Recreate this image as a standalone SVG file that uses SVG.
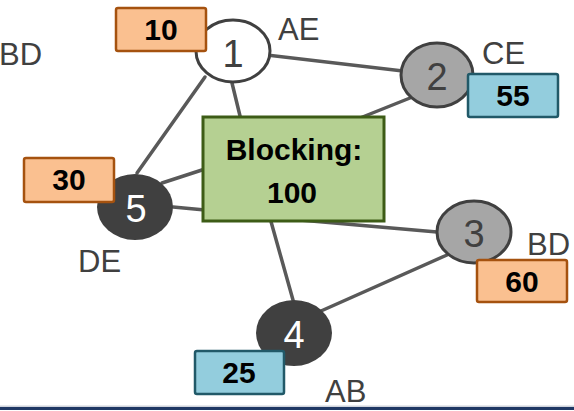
<svg xmlns="http://www.w3.org/2000/svg" width="574" height="411" viewBox="0 0 574 411">
<style>
.edge{stroke:#595959;stroke-width:3.5;stroke-linecap:round;fill:none}
.nd{stroke:#404040;stroke-width:3}
.num{font-family:"Liberation Sans",Arial,sans-serif;font-size:38px;text-anchor:middle}
.lbl{font-family:"Liberation Sans",Arial,sans-serif;font-size:31px;fill:#404040}
.bx{font-family:"Liberation Sans",Arial,sans-serif;font-size:30px;font-weight:bold;text-anchor:middle;fill:#000}
.or{fill:#fac090;stroke:#a5520f;stroke-width:2.5}
.bl{fill:#93cddd;stroke:#215968;stroke-width:2.5}
</style>
<rect width="574" height="411" fill="#fff"/>
<g id="connectors">
<line class="edge" x1="233" y1="51" x2="437" y2="75"/>
<line class="edge" x1="205" y1="77" x2="137" y2="173"/>
<line class="edge" x1="232" y1="83" x2="241" y2="120"/>
<line class="edge" x1="410" y1="98" x2="355" y2="120"/>
<line class="edge" x1="162" y1="183" x2="205" y2="169"/>
<line class="edge" x1="173" y1="207" x2="205" y2="210"/>
<line class="edge" x1="300" y1="220" x2="437" y2="232"/>
<line class="edge" x1="270" y1="218" x2="293" y2="300"/>
<line class="edge" x1="447" y1="255" x2="321" y2="311"/>
</g>
<g id="blocking">
<rect x="203" y="117" width="181" height="104" fill="#b5d092" stroke="#3d5c16" stroke-width="3"/>
<text class="bx" x="294" y="160" font-size="31">Blocking:</text>
<text class="bx" x="292" y="203" font-size="31">100</text>
</g>
<g id="node1">
<ellipse class="nd" cx="233" cy="51" rx="37" ry="31" fill="#fff"/>
<text class="num" x="233" y="67" fill="#404040">1</text>
<text class="lbl" x="278" y="40">AE</text>
<rect class="or" x="116" y="8" width="90" height="43" rx="2"/>
<text class="bx" x="161" y="40">10</text>
</g>
<g id="node2">
<ellipse class="nd" cx="437" cy="75" rx="36" ry="32" fill="#a6a6a6"/>
<text class="num" x="437" y="90" fill="#404040">2</text>
<text class="lbl" x="482" y="64">CE</text>
<rect class="bl" x="468" y="74" width="90" height="43" rx="2"/>
<text class="bx" x="513" y="106">55</text>
</g>
<g id="node3">
<ellipse class="nd" cx="474" cy="232" rx="37" ry="31" fill="#a6a6a6"/>
<text class="num" x="474" y="247" fill="#404040">3</text>
<text class="lbl" x="527" y="255">BD</text>
<rect class="or" x="477" y="260" width="90" height="42" rx="2"/>
<text class="bx" x="522" y="292">60</text>
</g>
<g id="node4">
<ellipse cx="294" cy="333" rx="38" ry="33" fill="#404040"/>
<text class="num" x="294" y="348" fill="#fff">4</text>
<text class="lbl" x="325" y="402">AB</text>
<rect class="bl" x="195" y="351" width="89" height="43" rx="2"/>
<text class="bx" x="239" y="383">25</text>
</g>
<g id="node5">
<ellipse cx="135" cy="207" rx="38" ry="33" fill="#404040"/>
<text class="num" x="136" y="222" fill="#fff">5</text>
<text class="lbl" x="78" y="272">DE</text>
<rect class="or" x="24" y="158" width="90" height="44" rx="2"/>
<text class="bx" x="69" y="190">30</text>
</g>
<text class="lbl" x="-1" y="65">BD</text>
<rect x="0" y="405.5" width="574" height="1.5" fill="#d0d4dc"/>
<rect x="0" y="407" width="574" height="3" fill="#1f3864"/>
</svg>
